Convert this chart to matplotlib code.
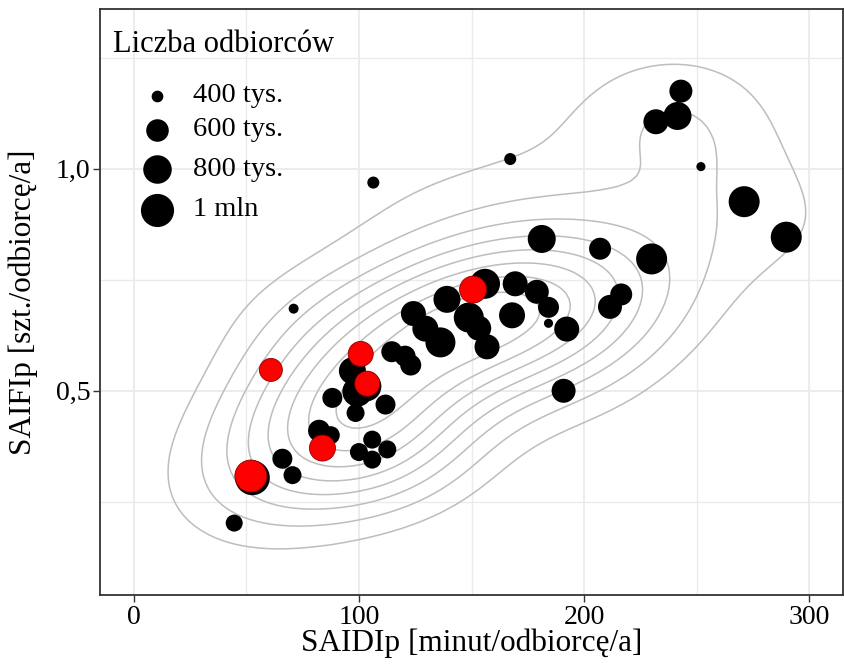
import numpy as np
import matplotlib
matplotlib.use("Agg")
import matplotlib.pyplot as plt
from matplotlib.ticker import FixedLocator

# black points: SAIDIp, SAIFIp, customers (thousands)
saidi = [44.6, 52.7, 66.0, 70.5, 71.0, 82.3, 87.5, 88.2, 97.1, 99.3,
         103.3, 98.5, 111.8, 105.9, 100.0, 112.6, 105.9, 106.4, 114.6, 120.5,
         123.0, 124.2, 129.5, 136.2, 139.1, 148.8, 153.2, 156.9, 156.0, 167.2,
         168.0, 169.4, 179.0, 181.2, 184.2, 184.2, 190.9, 192.3, 207.1, 211.5,
         216.5, 230.0, 231.9, 241.5, 243.0, 251.9, 271.1, 289.8]
saifi = [0.202, 0.304, 0.347, 0.310, 0.685, 0.410, 0.400, 0.484, 0.545, 0.498,
         0.510, 0.450, 0.469, 0.390, 0.362, 0.368, 0.345, 0.969, 0.588, 0.578,
         0.558, 0.674, 0.640, 0.609, 0.706, 0.665, 0.641, 0.599, 0.741, 1.022,
         0.670, 0.741, 0.723, 0.842, 0.688, 0.652, 0.500, 0.639, 0.820, 0.689,
         0.717, 0.797, 1.106, 1.119, 1.175, 1.005, 0.926, 0.846]
customers = [471, 1080, 533, 490, 388, 584, 490, 533, 743, 860,
             860, 490, 533, 490, 490, 490, 490, 403, 558, 558,
             558, 674, 707, 860, 743, 860, 674, 674, 860, 403,
             707, 674, 642, 780, 558, 384, 642, 674, 584, 642,
             584, 902, 674, 780, 612, 384, 902, 902]

# highlighted (red) points
red_saidi = [60.9, 100.8, 103.7, 83.8, 52.0, 150.7]
red_saifi = [0.547, 0.583, 0.516, 0.371, 0.308, 0.728]
red_customers = [612, 674, 674, 707, 947, 743]

legend_values = [400, 600, 800, 1000]
legend_labels = ["400 tys.", "600 tys.", "800 tys.", "1 mln"]

x_ticks = [0, 100, 200, 300]
x_ticklabels = ["0", "100", "200", "300"]
y_ticks = [0.5, 1.0]
y_ticklabels = ["0,5", "1,0"]

plt.rcParams['font.family'] = ['Liberation Serif', 'DejaVu Serif']


def marker_area(v):
    v = np.asarray(v, dtype=float)
    d_px = 7 + 1.05 * np.sqrt(np.clip(v - 380, 0, None))
    return (d_px * 0.72) ** 2


def bandwidth_nrd(x):
    q1, q3 = np.percentile(x, [25, 75])
    h = (q3 - q1) / 1.34
    return 4 * 1.06 * min(np.std(x, ddof=1), h) * len(x) ** (-0.2)


def kde2d(x, y, xlim, ylim, n=100, adjust=1.0):
    x = np.asarray(x)
    y = np.asarray(y)
    hx = bandwidth_nrd(x) / 4 * adjust
    hy = bandwidth_nrd(y) / 4 * adjust
    gx = np.linspace(xlim[0], xlim[1], n)
    gy = np.linspace(ylim[0], ylim[1], n)
    ax_ = (gx[:, None] - x[None, :]) / hx
    ay_ = (gy[:, None] - y[None, :]) / hy
    kx = np.exp(-0.5 * ax_ ** 2) / np.sqrt(2 * np.pi)
    ky = np.exp(-0.5 * ay_ ** 2) / np.sqrt(2 * np.pi)
    z = kx @ ky.T / (len(x) * hx * hy)
    return gx, gy, z


gx, gy, z = kde2d(saidi, saifi, (0, 300), (0.1, 1.3), adjust=1.2)
levels = z.max() * (np.arange(8) + 1.4) / 9.4

fig = plt.figure(figsize=(8.44, 6.64), dpi=100)
ax = fig.add_axes([100 / 844, 69 / 664, 743 / 844, 586 / 664])

ax.contour(gx, gy, z.T, levels=levels, colors='#bdbdbd', linewidths=1.1, zorder=2)
ax.scatter(saidi, saifi, s=marker_area(customers), color='black', linewidths=0, zorder=3)
ax.scatter(red_saidi, red_saifi, s=marker_area(red_customers), color='#ff0000',
           edgecolors='#8b0000', linewidths=0.6, zorder=4)

ax.set_xlim(-15, 315)
ax.set_ylim(0.04, 1.36)
ax.set_xticks(x_ticks)
ax.set_xticklabels(x_ticklabels)
ax.set_yticks(y_ticks)
ax.set_yticklabels(y_ticklabels)
ax.xaxis.set_minor_locator(FixedLocator([50, 150, 250]))
ax.yaxis.set_minor_locator(FixedLocator([0.25, 0.75, 1.25]))
ax.grid(True, which='major', color='#ebebeb', linewidth=1.3, zorder=0)
ax.grid(True, which='minor', color='#ebebeb', linewidth=1.0, zorder=0)
ax.set_axisbelow(True)
ax.tick_params(which='major', length=5, width=1.0, color='#333333', labelsize=20,
               labelcolor='black', pad=2)
ax.tick_params(which='minor', length=0)
ax.tick_params(axis='x', pad=2)
for sp in ax.spines.values():
    sp.set_color('#333333')
    sp.set_linewidth(1.3)

ax.set_xlabel("SAIDIp [minut/odbiorcę/a]", fontsize=22.5, labelpad=-1)
ax.set_ylabel("SAIFIp [szt./odbiorcę/a]", fontsize=22.5, labelpad=13)

# legend drawn inside the panel, top-left
leg_x = (157 - 100) / 743
lab_x = (193 - 100) / 743
rows_y = [96, 130, 169, 210]
ax.text((113 - 100) / 743, 1 - (44 - 9) / 586, "Liczba odbiorców", transform=ax.transAxes,
        fontsize=22, ha='left', va='center', zorder=6)
for val, lab, yy in zip(legend_values, legend_labels, rows_y):
    ty = 1 - (yy - 9) / 586
    ax.scatter([leg_x], [ty], s=marker_area([val]), color='black', linewidths=0,
               transform=ax.transAxes, zorder=6, clip_on=False)
    ax.text(lab_x, ty, lab, transform=ax.transAxes, fontsize=20.5, ha='left',
            va='center', zorder=6)

fig.savefig("out.png", dpi=100)
